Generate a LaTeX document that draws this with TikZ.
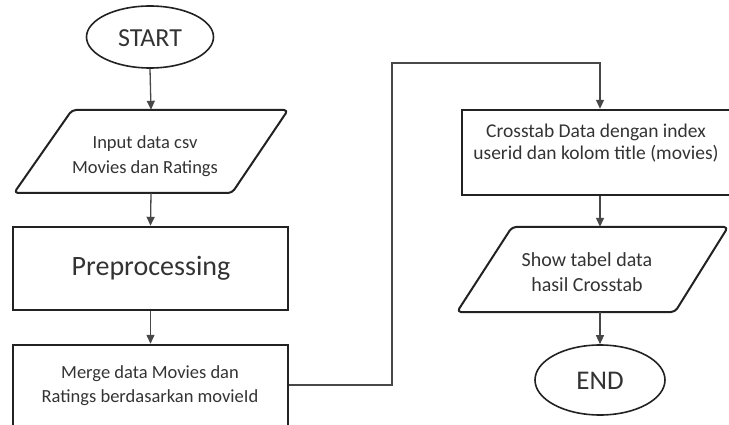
\documentclass[tikz,border=0pt]{standalone}
\usepackage{fontspec}
\setmainfont{Carlito}
\usetikzlibrary{arrows.meta,shapes.geometric}
\definecolor{bord}{HTML}{222222}
\definecolor{txt}{HTML}{333333}
\definecolor{conn}{HTML}{484848}
\begin{document}
\begin{tikzpicture}[x=1pt,y=-1pt,
  box/.style={draw=bord,line width=2.4pt,rectangle,inner sep=0pt},
  anchorbox/.style={rectangle,inner sep=0pt},
  term/.style={draw=bord,line width=1.6pt,ellipse,inner sep=0pt},
  para/.style={draw=bord,line width=2pt,rounded corners=4pt,line join=round},
  lbl/.style={text=txt,align=center,inner sep=0pt},
  flow/.style={draw=conn,line width=1.3pt,-{Triangle[length=9pt,width=8pt]}}]
\useasboundingbox (0,0) rectangle (729,425);

% left column
\node[term,minimum width=127pt,minimum height=62pt] (start) at (150,37) {};
\node[lbl,font=\fontsize{26}{30}\selectfont] at (150,38) {START};

\draw[para] (72,110) -- (288,110) -- (232,193) -- (14,193) -- cycle;
\node[anchorbox,minimum width=274pt,minimum height=83pt] (inp) at (151,151.5) {};
\node[lbl,font=\fontsize{18.5}{25}\selectfont] at (145,156) {Input data csv\\Movies dan Ratings};

\node[box,minimum width=275pt,minimum height=83pt] (pre) at (150.5,268.5) {};
\node[lbl,font=\fontsize{28}{32}\selectfont] at (151,268) {Preprocessing};

\node[box,minimum width=275pt,minimum height=85pt] (merge) at (150.5,387.5) {};
\node[lbl,font=\fontsize{18.5}{24}\selectfont] at (150,386) {Merge data Movies dan\\Ratings berdasarkan movieId};

% right column
\node[box,minimum width=290pt,minimum height=85pt] (cross) at (607,152.5) {};
\node[lbl,font=\fontsize{19.5}{22}\selectfont] at (596,143) {Crosstab Data dengan index\\userid dan kolom title (movies)};

\draw[para] (512,227) -- (728,227) -- (675,312) -- (457,312) -- cycle;
\node[anchorbox,minimum width=271pt,minimum height=85pt] (show) at (600,269.5) {};
\node[lbl,font=\fontsize{20}{25}\selectfont] at (587,272) {Show tabel data\\hasil Crosstab};

\node[term,minimum width=130pt,minimum height=70pt] (end) at (600,380) {};
\node[lbl,font=\fontsize{27}{30}\selectfont] at (600,381) {END};

% connectors
\draw[flow] (start.south) -- (inp.north);
\draw[flow] (inp.south) -- (pre.north);
\draw[flow] (pre.south) -- (merge.north);
\coordinate (bendA) at (392,385);
\coordinate (bendB) at (392,63);
\coordinate (bendC) at (600,63);
\draw[flow] (merge.east |- bendA) -- (bendA) -- (bendB) -- (bendC) -- (bendC |- cross.north);
\draw[flow] (bendC |- cross.south) -- (show.north);
\draw[flow] (show.south) -- (end.north);
\end{tikzpicture}
\end{document}
